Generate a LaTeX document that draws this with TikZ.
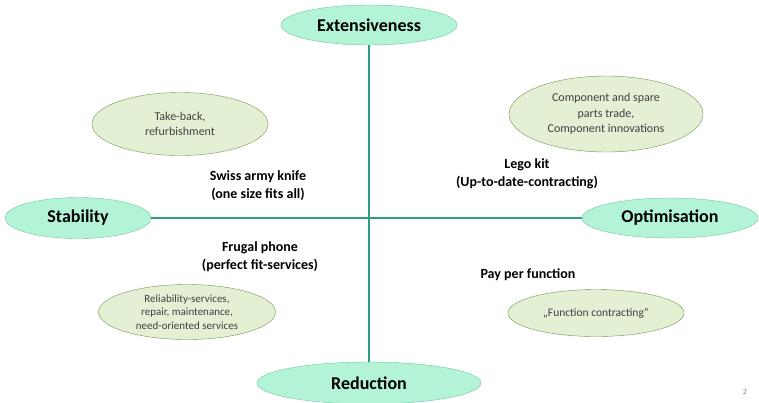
\documentclass[tikz,border=0pt]{standalone}
\usepackage{fontspec}
\setmainfont{Carlito}
\usetikzlibrary{shapes.geometric}
\definecolor{mintfill}{RGB}{180,244,214}
\definecolor{mintedge}{RGB}{110,196,160}
\definecolor{axisink}{RGB}{46,156,128}
\definecolor{olivefill}{RGB}{228,240,212}
\definecolor{oliveedge}{RGB}{118,146,80}
\definecolor{greyink}{RGB}{64,64,64}

\begin{document}
\begin{tikzpicture}[x=1pt, y=-1pt,
  pole/.style={ellipse, draw=mintedge, fill=mintfill, inner sep=0pt,
    font=\fontsize{18}{20}\selectfont\bfseries},
  offer/.style={ellipse, draw=oliveedge, fill=olivefill, inner sep=0pt,
    align=center, text=greyink, font=\fontsize{12}{15.5}\selectfont},
  model/.style={align=center, font=\fontsize{14}{18}\selectfont\bfseries}]
  \useasboundingbox (0,0) rectangle (759,402);
  % the four poles
  \node[pole, minimum width=176pt, minimum height=40pt] (ext) at (369,25) {Extensiveness};
  \node[pole, minimum width=224pt, minimum height=42pt] (red) at (369,383) {Reduction};
  \node[pole, minimum width=146pt, minimum height=41pt] (stab) at (78,218) {Stability};
  \node[pole, minimum width=176pt, minimum height=40pt] (opt) at (670,218) {Optimisation};
  \draw[axisink, line width=2pt] (ext) -- (red);
  \draw[axisink, line width=2pt] (stab) -- (opt);
  % service offers
  \node[offer, minimum width=176pt, minimum height=63pt] (take) at (180,124) {Take-back,\\refurbishment};
  \node[offer, minimum width=194pt, minimum height=76pt] (parts) at (606,114) {Component and spare\\parts trade,\\Component innovations};
  \node[offer, minimum width=177pt, minimum height=55pt, font=\fontsize{11}{13.5}\selectfont] (relia) at (187,312) {Reliability-services,\\repair, maintenance,\\need-oriented services};
  \node[offer, minimum width=176pt, minimum height=47pt, font=\fontsize{11.5}{14}\selectfont] (func) at (596,313) {„Function contracting“};
  % business models
  \node[model] (swiss) at (258,186) {Swiss army knife\\(one size fits all)};
  \node[model] (frugal) at (260,257) {Frugal phone\\(perfect fit-services)};
  \node[model] (lego) at (527,174) {Lego kit\\(Up-to-date-contracting)};
  \node[model] (pay) at (528,275) {Pay per function};
  \node[text=gray, font=\fontsize{8}{10}\selectfont] (page) at (745,392) {2};
\end{tikzpicture}
\end{document}
